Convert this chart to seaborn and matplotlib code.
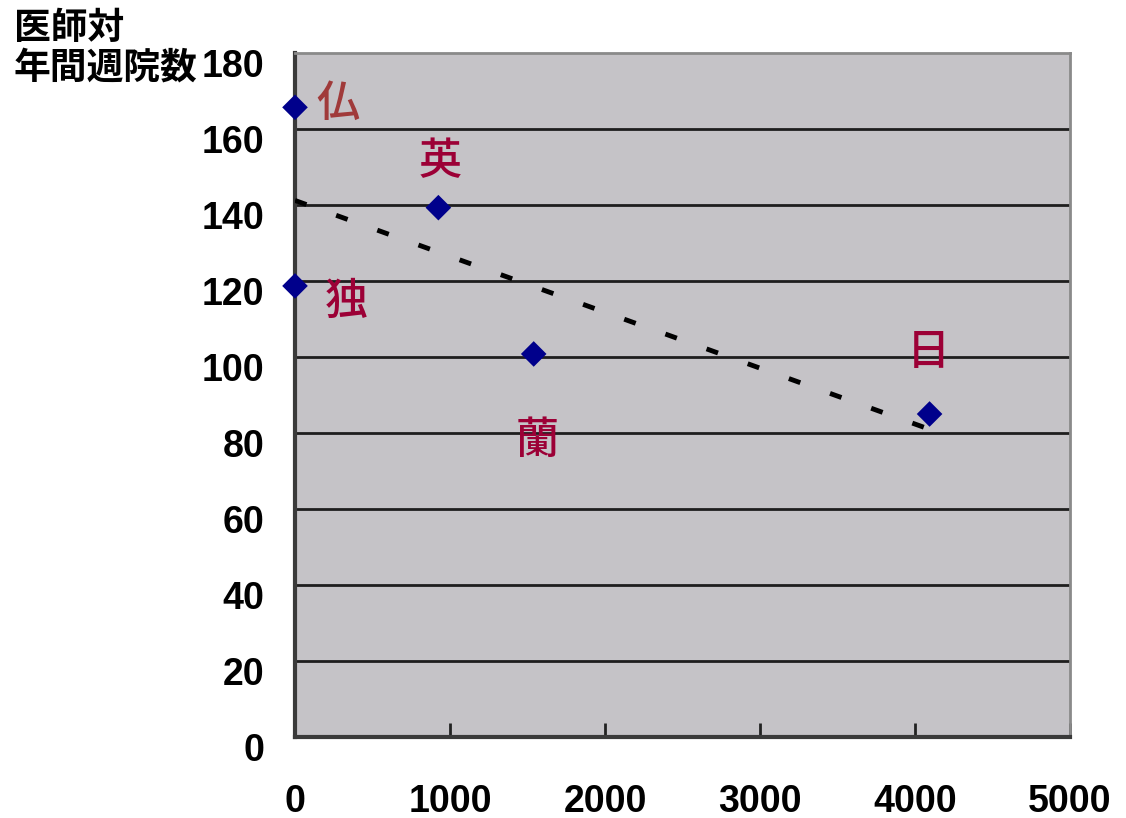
import matplotlib
matplotlib.use("Agg")
import matplotlib.pyplot as plt
import matplotlib.transforms as mtransforms
import seaborn as sns
import pandas as pd
import numpy as np

# ---- data ----
countries = ["仏", "独", "英", "蘭", "日"]
doctors = [0, 0, 925, 1540, 4094]            # x values
visits = [165.7, 118.7, 139.3, 100.8, 85.0]  # y values
x_ticks = [0, 1000, 2000, 3000, 4000, 5000]
y_ticks = [0, 20, 40, 60, 80, 100, 120, 140, 160, 180]
y_title = "医師対\n年間週院数"

df = pd.DataFrame({"x": doctors, "y": visits, "country": countries})

sns.set_theme(style="white")
plt.rcParams["font.family"] = ["Liberation Sans", "Noto Sans CJK JP", "DejaVu Sans"]
plt.rcParams["text.color"] = "black"

fig = plt.figure(figsize=(11.26, 8.18), dpi=100)
ax = fig.add_axes([295 / 1126, 1 - 737 / 818, (1070 - 295) / 1126, (737 - 53) / 818])
ax.set_facecolor("#c5c3c7")

# gridlines
for yv in y_ticks[1:-1]:
    ax.axhline(yv, color="#1e1e1e", lw=2.0, zorder=1)

# regression trend line (dotted)
sns.regplot(data=df, x="x", y="y", scatter=False, ci=None, truncate=True, ax=ax,
            line_kws=dict(color="black", lw=3.5, ls=(0, (2.5, 6.5)), zorder=3))

# points
sns.scatterplot(data=df, x="x", y="y", marker="D", s=170, color="#00008b",
                edgecolor="none", ax=ax, zorder=5, clip_on=False)

# labels
offsets = {"仏": (43, -4), "独": (51, 16), "英": (2, -46), "蘭": (3, 87), "日": (-1, -62)}
colors = {"仏": "#a03a3a"}
for _, r in df.iterrows():
    dx, dy = offsets[r["country"]]
    ax.annotate(r["country"], (r["x"], r["y"]), xytext=(dx * 0.72, -dy * 0.72),
                textcoords="offset points", ha="center", va="center",
                fontsize=31, color=colors.get(r["country"], "#9c0036"),
                family=["Noto Sans CJK JP"], fontweight="medium", zorder=6)

ax.set_xlim(0, 5000)
ax.set_ylim(0, 180)
ax.set_xticks(x_ticks)
ax.set_yticks(y_ticks)
ax.set_xticklabels([str(v) for v in x_ticks], fontweight="bold")
ax.set_yticklabels([str(v) for v in y_ticks], fontweight="bold")
ax.set_xlabel("")
ax.set_ylabel("")

ax.tick_params(axis="x", bottom=True, direction="in", length=10, width=2, color="#222222",
               pad=34, labelsize=27, labelcolor="black")
ax.tick_params(axis="y", length=0, pad=22, labelsize=27, labelcolor="black")

offset = mtransforms.ScaledTranslation(0, -10 / 100, fig.dpi_scale_trans)
for lbl in ax.get_yticklabels():
    lbl.set_transform(lbl.get_transform() + offset)

for side in ["left", "bottom"]:
    ax.spines[side].set_visible(True)
    ax.spines[side].set_color("#3a3a3a")
    ax.spines[side].set_linewidth(3)
for side in ["top", "right"]:
    ax.spines[side].set_visible(True)
    ax.spines[side].set_color("#8a8a8a")
    ax.spines[side].set_linewidth(2)

fig.text(14 / 1126, 1 - 10 / 818, y_title, ha="left", va="top", fontsize=26.5,
         fontweight="bold", family=["Noto Sans CJK JP"], linespacing=1.08, color="black")

fig.savefig("out.png", dpi=100, facecolor="white")
